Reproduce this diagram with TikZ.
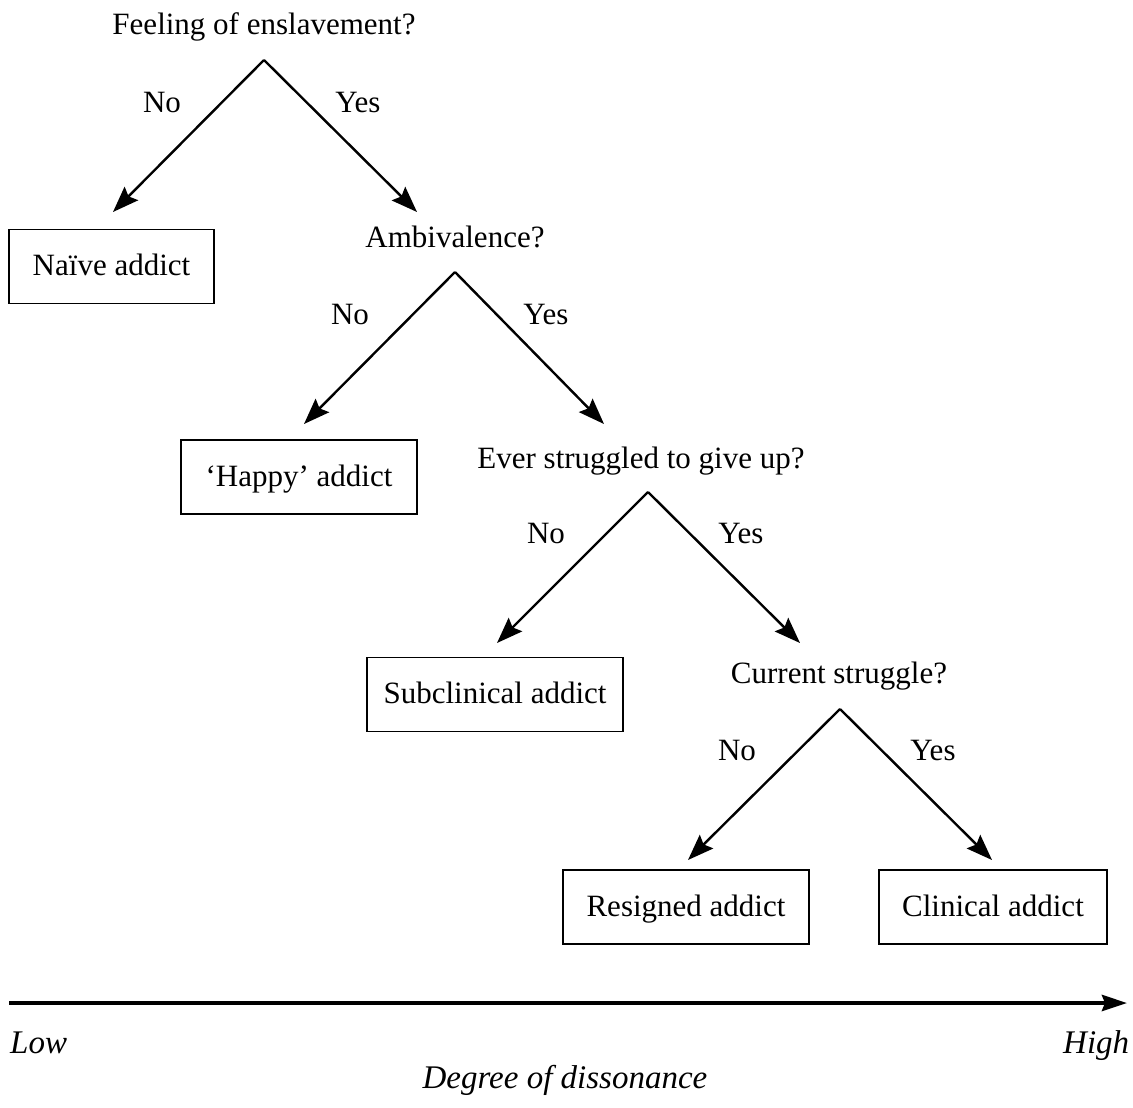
\documentclass[tikz,border=0pt]{standalone}
\usepackage{fontspec}
\setmainfont{Liberation Serif}
\usetikzlibrary{arrows.meta}
\begin{document}
\begin{tikzpicture}[x=1pt,y=-1pt,
  every node/.style={font=\fontsize{31}{37}\selectfont, inner sep=0pt},
  qtext/.style={anchor=base},
  lbl/.style={anchor=base},
  addictbox/.style={draw, line width=1.4pt, minimum height=74pt, anchor=center,
    text height=24pt, text depth=6pt},
  branch/.style={line width=2.4pt, -{Stealth[length=26pt,width=19pt,inset=4pt]}},
  axislbl/.style={font=\fontsize{33}{39}\selectfont\itshape, anchor=base}
]
\useasboundingbox (0,0) rectangle (1133,1108);

% Level 1
\node[qtext] (q1) at (264,35) {Feeling of enslavement?};
\coordinate (a1) at (264,60);
\coordinate (e1l) at (113,212);
\coordinate (e1r) at (417,212);
\draw[branch] (a1) -- (e1l);
\draw[branch] (a1) -- (e1r);
\node[lbl] (n1) at (162,112) {No};
\node[lbl] (y1) at (358,112) {Yes};
\node[addictbox, minimum width=205pt] (b1) at (111.5,266.5) {Naïve addict};

% Level 2
\node[qtext] (q2) at (455,247) {Ambivalence?};
\coordinate (a2) at (455,272);
\coordinate (e2l) at (304,424);
\coordinate (e2r) at (604,424);
\draw[branch] (a2) -- (e2l);
\draw[branch] (a2) -- (e2r);
\node[lbl] (n2) at (350,324) {No};
\node[lbl] (y2) at (546,324) {Yes};
\node[addictbox, minimum width=236pt] (b2) at (299,477) {‘Happy’ addict};

% Level 3
\node[qtext] (q3) at (641,468) {Ever struggled to give up?};
\coordinate (a3) at (648,492);
\coordinate (e3l) at (497,643);
\coordinate (e3r) at (800,643);
\draw[branch] (a3) -- (e3l);
\draw[branch] (a3) -- (e3r);
\node[lbl] (n3) at (546,543) {No};
\node[lbl] (y3) at (741,543) {Yes};
\node[addictbox, minimum width=256pt] (b3) at (495,694.5) {Subclinical addict};

% Level 4
\node[qtext] (q4) at (839,683) {Current struggle?};
\coordinate (a4) at (840,709);
\coordinate (e4l) at (688,860);
\coordinate (e4r) at (992,860);
\draw[branch] (a4) -- (e4l);
\draw[branch] (a4) -- (e4r);
\node[lbl] (n4) at (737,760) {No};
\node[lbl] (y4) at (933,760) {Yes};
\node[addictbox, minimum width=246pt] (b4) at (686,907) {Resigned addict};
\node[addictbox, minimum width=228pt] (b5) at (993,907) {Clinical addict};

% Axis
\coordinate (axL) at (9,1003);
\coordinate (axR) at (1127,1003);
\draw[line width=4pt, -{Stealth[length=25pt,width=16pt,inset=3pt]}] (axL) -- (axR);
\node[axislbl, anchor=base west] (low) at (10,1053) {Low};
\node[axislbl, anchor=base west] (high) at (1063,1053) {High};
\node[axislbl] (deg) at (565,1088) {Degree of dissonance};
\end{tikzpicture}
\end{document}
